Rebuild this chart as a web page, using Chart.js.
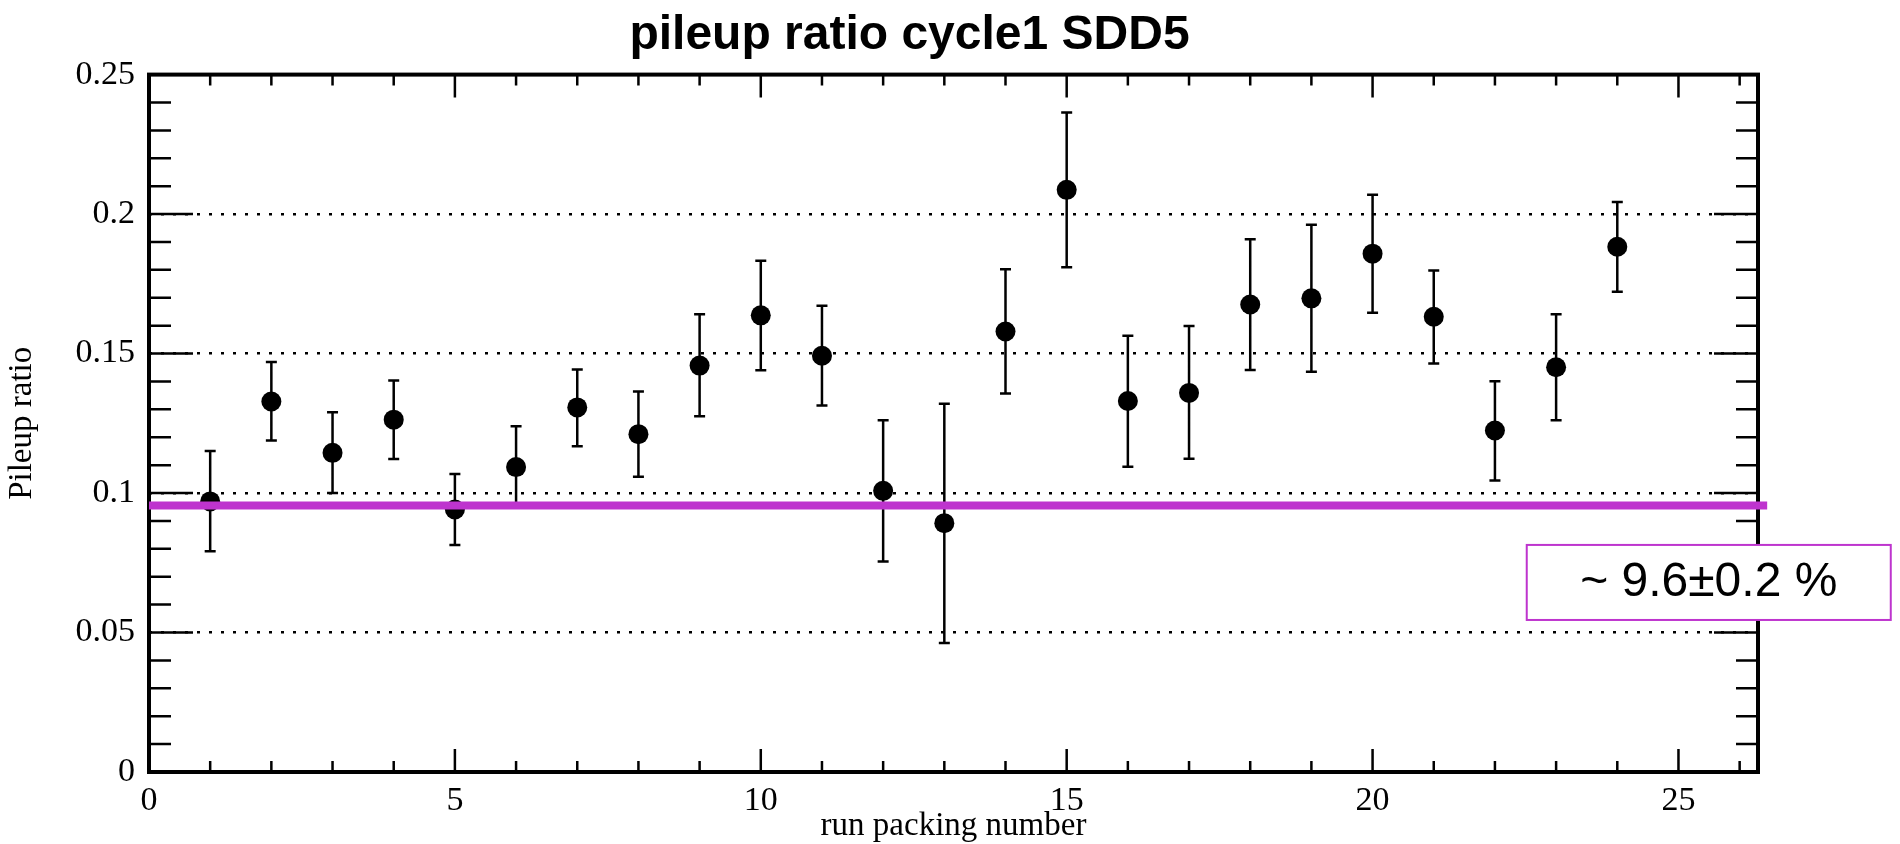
<!DOCTYPE html>
<html>
<head>
<meta charset="utf-8">
<script src="https://cdn.jsdelivr.net/npm/chart.js@4/dist/chart.umd.min.js"></script>
<style>
  html, body { margin: 0; padding: 0; background: #ffffff; }
  #wrap { width: 1900px; height: 844px; }
</style>
</head>
<body>
<div id="wrap"><canvas id="c" width="1900" height="844"></canvas></div>
<script>
// ---- data ----
const runNumbers = [1,2,3,4,5,6,7,8,9,10,11,12,13,14,15,16,17,18,19,20,21,22,23,24];
const pileupRatio = [0.0970,0.1328,0.1144,0.1263,0.0941,0.1093,0.1307,0.1211,0.1457,0.1637,0.1492,0.1008,
                     0.0892,0.1579,0.2087,0.1330,0.1359,0.1676,0.1698,0.1858,0.1632,0.1224,0.1451,0.1883];
const errUpper = [0.1151,0.1470,0.1290,0.1403,0.1068,0.1239,0.1443,0.1364,0.1641,0.1833,0.1671,0.1261,
                  0.1320,0.1802,0.2364,0.1564,0.1599,0.1910,0.1962,0.2069,0.1798,0.1401,0.1641,0.2043];
const errLower = [0.0791,0.1188,0.1000,0.1122,0.0814,0.0950,0.1168,0.1058,0.1275,0.1440,0.1314,0.0755,
                  0.0462,0.1357,0.1809,0.1094,0.1123,0.1441,0.1435,0.1646,0.1464,0.1045,0.1261,0.1722];
const meanRatio = 0.0955;
const meanLineX = [0, 26.45];
const meanLabel = "~ 9.6\u00B10.2 %";
const labelBoxX = [22.52, 28.47];
const labelBoxY = [0.0814, 0.0545];
const xRange = [0, 26.3];
const yRange = [0, 0.25];
const xMajorStep = 5, xMinorStep = 1;
const yMajorStep = 0.05, yMinorStep = 0.01;
const titleText = "pileup ratio cycle1 SDD5";
const xTitle = "run packing number";
const yTitle = "Pileup ratio";

const MAGENTA = '#BE34CE';
const SERIF = "'Liberation Serif', 'Times New Roman', serif";
const SANS = "'Liberation Sans', Arial, Helvetica, sans-serif";

const rootStyle = {
  id: 'rootStyle',
  beforeDatasetsDraw(chart) {
    const ctx = chart.ctx, a = chart.chartArea;
    const xs = chart.scales.x, ys = chart.scales.y;
    ctx.save();
    ctx.strokeStyle = '#000';
    // ticks
    ctx.lineWidth = 2.5;
    ctx.lineCap = 'butt';
    ctx.beginPath();
    const nY = Math.round((yRange[1] - yRange[0]) / yMinorStep);
    for (let i = 0; i <= nY; i++) {
      const v = yRange[0] + i * yMinorStep;
      const major = Math.abs(v / yMajorStep - Math.round(v / yMajorStep)) < 1e-6;
      const len = major ? 44 : 22;
      const p = ys.getPixelForValue(v);
      ctx.moveTo(a.left, p); ctx.lineTo(a.left + len, p);
      ctx.moveTo(a.right, p); ctx.lineTo(a.right - len, p);
    }
    for (let v = xRange[0]; v <= xRange[1] + 1e-9; v += xMinorStep) {
      const major = Math.abs(v / xMajorStep - Math.round(v / xMajorStep)) < 1e-6;
      const len = major ? 23 : 11;
      const p = xs.getPixelForValue(v);
      ctx.moveTo(p, a.bottom); ctx.lineTo(p, a.bottom - len);
      ctx.moveTo(p, a.top); ctx.lineTo(p, a.top + len);
    }
    ctx.stroke();
    // frame
    ctx.lineWidth = 4;
    ctx.strokeRect(a.left, a.top, a.right - a.left, a.bottom - a.top);
    // error bars
    ctx.lineWidth = 2.5;
    ctx.beginPath();
    for (let i = 0; i < runNumbers.length; i++) {
      const px = xs.getPixelForValue(runNumbers[i]);
      const pt = ys.getPixelForValue(errUpper[i]);
      const pb = ys.getPixelForValue(errLower[i]);
      ctx.moveTo(px, pt); ctx.lineTo(px, pb);
      ctx.moveTo(px - 5.5, pt); ctx.lineTo(px + 5.5, pt);
      ctx.moveTo(px - 5.5, pb); ctx.lineTo(px + 5.5, pb);
    }
    ctx.stroke();
    ctx.restore();
  },
  afterDatasetsDraw(chart) {
    const ctx = chart.ctx;
    const xs = chart.scales.x, ys = chart.scales.y;
    const l = xs.getPixelForValue(labelBoxX[0]), r = xs.getPixelForValue(labelBoxX[1]);
    const t = ys.getPixelForValue(labelBoxY[0]), b = ys.getPixelForValue(labelBoxY[1]);
    ctx.save();
    ctx.fillStyle = '#fff';
    ctx.fillRect(l, t, r - l, b - t);
    ctx.strokeStyle = MAGENTA;
    ctx.lineWidth = 2;
    ctx.strokeRect(l, t, r - l, b - t);
    ctx.fillStyle = '#000';
    ctx.font = "48px " + SANS;
    ctx.textAlign = 'center';
    ctx.textBaseline = 'middle';
    ctx.fillText(meanLabel, (l + r) / 2, (t + b) / 2);
    ctx.restore();
  }
};

const fmtTick = v => String(Math.round(v * 10000) / 10000);

new Chart(document.getElementById('c'), {
  type: 'scatter',
  data: {
    datasets: [
      {
        label: 'pileup',
        data: runNumbers.map((x, i) => ({x: x, y: pileupRatio[i]})),
        backgroundColor: '#000',
        borderColor: '#000',
        borderWidth: 0,
        pointRadius: 10,
        pointHoverRadius: 10,
        showLine: false,
        order: 1
      },
      {
        label: 'mean',
        type: 'line',
        data: meanLineX.map(x => ({x: x, y: meanRatio})),
        borderColor: MAGENTA,
        borderWidth: 8,
        pointRadius: 0,
        fill: false,
        clip: false,
        order: 0
      }
    ]
  },
  options: {
    responsive: false,
    animation: false,
    devicePixelRatio: 1,
    events: [],
    layout: { padding: { left: 61, right: 142, top: 0, bottom: 0 } },
    plugins: {
      legend: { display: false },
      tooltip: { enabled: false },
      title: {
        display: true,
        text: titleText,
        color: '#000',
        font: { family: SANS, size: 48, weight: 'bold', lineHeight: 1.2 },
        padding: { top: 7, bottom: 10 }
      }
    },
    scales: {
      x: {
        type: 'linear',
        min: xRange[0],
        max: xRange[1],
        afterFit: s => { s.height = 72; },
        grid: { display: false },
        border: { display: false },
        ticks: {
          stepSize: xMajorStep,
          includeBounds: false,
          color: '#000',
          padding: 1,
          maxRotation: 0,
          callback: fmtTick,
          font: { family: SERIF, size: 34 }
        },
        title: {
          display: true,
          text: xTitle,
          color: '#000',
          font: { family: SERIF, size: 33 },
          padding: { top: 0, bottom: -2 }
        }
      },
      y: {
        type: 'linear',
        min: yRange[0],
        max: yRange[1],
        afterFit: s => { s.width = 88; },
        grid: {
          drawTicks: false,
          lineWidth: 2.5,
          color: c => (c.tick && c.tick.value > 1e-9 && c.tick.value < yRange[1] - 1e-9) ? '#000' : 'rgba(0,0,0,0)'
        },
        border: { display: false, dash: [3, 9] },
        ticks: {
          stepSize: yMajorStep,
          color: '#000',
          padding: 14,
          callback: fmtTick,
          font: { family: SERIF, size: 34 }
        },
        title: {
          display: true,
          text: yTitle,
          color: '#000',
          font: { family: SERIF, size: 33 },
          padding: { top: -58.3, bottom: 0 }
        }
      }
    }
  },
  plugins: [rootStyle]
});
</script>
</body>
</html>
